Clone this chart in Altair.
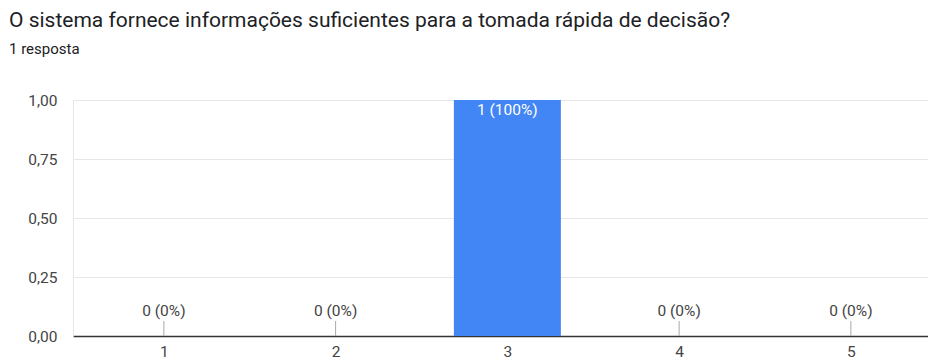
import altair as alt
import pandas as pd

# Survey answers: rating option -> number of responses
options = [1, 2, 3, 4, 5]
counts = [0, 0, 1, 0, 0]
total = sum(counts)
labels = [f"{c} ({round(100 * c / total)}%)" for c in counts]

df = pd.DataFrame({"opcao": options, "respostas": counts, "rotulo": labels})

W, H = 855, 236
FONT = "Roboto"
GREY = "#444444"
x_scale = alt.Scale(domain=[0.5, 5.42], nice=False, zero=False)
y_scale = alt.Scale(domain=[0, 1], nice=False)

x_enc = alt.X(
    "opcao:Q",
    scale=x_scale,
    axis=alt.Axis(
        values=options, title=None, grid=False, ticks=False,
        labelFontSize=15.5, labelColor=GREY, labelFont=FONT,
        labelPadding=8, domainColor="#333333", domainWidth=1.5,
        format="d",
    ),
)
y_enc = alt.Y(
    "respostas:Q",
    scale=y_scale,
    axis=alt.Axis(
        values=[0, 0.25, 0.5, 0.75, 1.0], title=None, ticks=False,
        labelExpr="replace(format(datum.value, '.2f'), '.', ',')",
        labelFontSize=15.5, labelColor=GREY, labelFont=FONT,
        labelPadding=16, gridColor="#e6e6e6", domain=True,
        domainColor="#e6e6e6",
    ),
)

base = alt.Chart(df)

bars = base.mark_bar(color="#4285F4", size=107).encode(x=x_enc, y=y_enc)

# short stubs standing on the baseline for empty options
stubs = base.transform_filter("datum.respostas == 0").mark_rule(
    color="#a8a8a8", strokeWidth=1
).encode(x="opcao:Q", y=alt.Y("respostas:Q"), y2=alt.value(H - 15))

zero_labels = base.transform_filter("datum.respostas == 0").mark_text(
    baseline="bottom", dy=-17, fontSize=15.5, font=FONT, color=GREY
).encode(x="opcao:Q", y="respostas:Q", text="rotulo:N")

bar_labels = base.transform_filter("datum.respostas > 0").mark_text(
    baseline="top", dy=3, fontSize=15.5, font=FONT, color="white"
).encode(x="opcao:Q", y="respostas:Q", text="rotulo:N")

chart = (
    alt.layer(bars, stubs, zero_labels, bar_labels)
    .properties(
        width=W,
        height=H,
        autosize=alt.AutoSizeParams(type="none"),
        padding={"left": 73, "top": 100, "right": 0, "bottom": 24},
        title=alt.TitleParams(
            text="O sistema fornece informações suficientes para a tomada rápida de decisão?",
            subtitle="1 resposta",
            anchor="start",
            frame="group",
            dx=-64,
            offset=36,
            font=FONT,
            fontSize=21,
            fontWeight="normal",
            color="#202124",
            subtitleFont=FONT,
            subtitleFontSize=15,
            subtitleColor="#202124",
            subtitlePadding=11,
        ),
    )
    .configure_view(stroke=None)
    .configure(background="white")
)

chart.save("out.html", embed_options={"renderer": "svg", "actions": False})
